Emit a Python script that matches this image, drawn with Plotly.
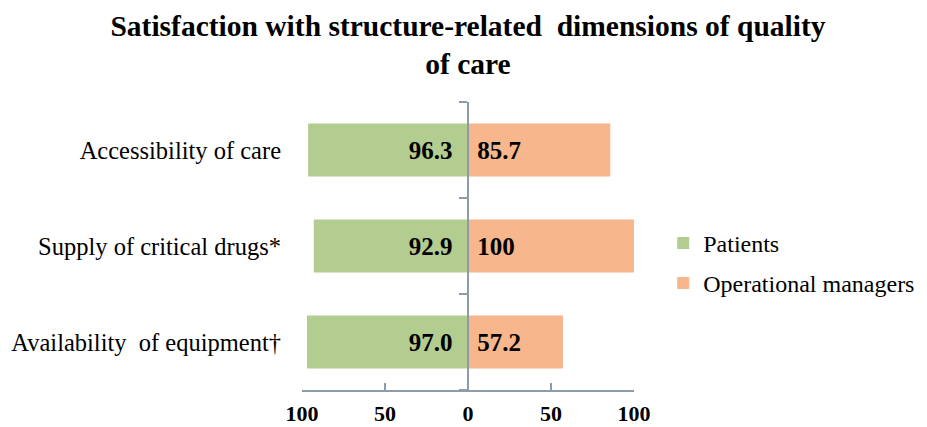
import plotly.graph_objects as go

categories = ["Accessibility of care", "Supply of critical drugs*", "Availability  of equipment\u2020"]
patients = [96.3, 92.9, 97.0]
managers = [85.7, 100, 57.2]
series_names = ["Patients", "Operational managers"]
tick_values = [-100, -50, 0, 50, 100]
tick_labels = ["100", "50", "0", "50", "100"]
title_text = "Satisfaction with structure-related  dimensions of quality<br>of care"

GREEN = "#b3cc8f"
ORANGE = "#f7b68c"
AXIS = "#8e9ba8"
FONT = "Liberation Serif"
NB = "\u00a0"

fig = go.Figure()
fig.add_trace(go.Bar(
    y=categories, x=[-v for v in patients], orientation="h", name=series_names[0],
    marker=dict(color=GREEN, line=dict(width=0)),
    text=[f"{v:.1f}" + NB * 2 for v in patients],
    textposition="inside", insidetextanchor="start", constraintext="none",
    insidetextfont=dict(family=FONT, size=25, color="black", weight="bold"),
    width=0.55, legendgroup="a", hoverinfo="skip",
))
fig.add_trace(go.Bar(
    y=categories, x=managers, orientation="h", name=series_names[1],
    marker=dict(color=ORANGE, line=dict(width=0)),
    text=[NB + f"{v:g}" for v in managers],
    textposition="inside", insidetextanchor="start", constraintext="none",
    insidetextfont=dict(family=FONT, size=25, color="black", weight="bold"),
    width=0.55, legendgroup="b", hoverinfo="skip",
))
# invisible helper so the centre axis is drawn
fig.add_trace(go.Scatter(
    x=[0] * len(categories), y=categories, yaxis="y2", mode="markers",
    marker=dict(opacity=0), showlegend=False, hoverinfo="skip",
))

cat_order = list(reversed(categories))
fig.update_layout(
    width=927, height=427,
    margin=dict(l=294, r=301, t=94, b=45, autoexpand=False),
    paper_bgcolor="white", plot_bgcolor="white",
    barmode="relative",
    font=dict(family=FONT, color="black"),
    title=dict(text=title_text, x=0.5, xref="paper", xanchor="center",
               y=1 - 28 / 427, yref="container", yanchor="middle",
               font=dict(family=FONT, size=29.5, color="black", weight="bold")),
    xaxis=dict(range=[-100, 100], tickvals=tick_values, ticktext=tick_labels,
               showline=True, linecolor=AXIS, linewidth=1.5, automargin=False,
               ticks="inside", ticklen=7, tickcolor=AXIS, tickwidth=1.5,
               showgrid=False, zeroline=False, ticklabelstandoff=3,
               tickfont=dict(family=FONT, size=22, color="black", weight="bold")),
    yaxis=dict(type="category", categoryorder="array", categoryarray=cat_order,
               range=[-0.5, 2.5], showline=False, showgrid=False, zeroline=False,
               ticks="", ticklabelstandoff=20, automargin=False,
               tickfont=dict(family=FONT, size=24.5, color="black")),
    yaxis2=dict(type="category", categoryorder="array", categoryarray=cat_order,
                range=[-0.5, 2.5], overlaying="y", anchor="free", position=0.5,
                side="left", showline=True, linecolor=AXIS, linewidth=1.5,
                ticks="outside", tickson="boundaries", ticklen=8, tickcolor=AXIS,
                tickwidth=1.5, showticklabels=False, showgrid=False, zeroline=False,
                automargin=False),
    legend=dict(x=1.088, xanchor="left", y=0.44, yanchor="middle",
                traceorder="grouped", tracegroupgap=6,
                font=dict(family=FONT, size=24, color="black"),
                bgcolor="rgba(0,0,0,0)"),
    showlegend=True,
)

fig.write_html("out.html")
